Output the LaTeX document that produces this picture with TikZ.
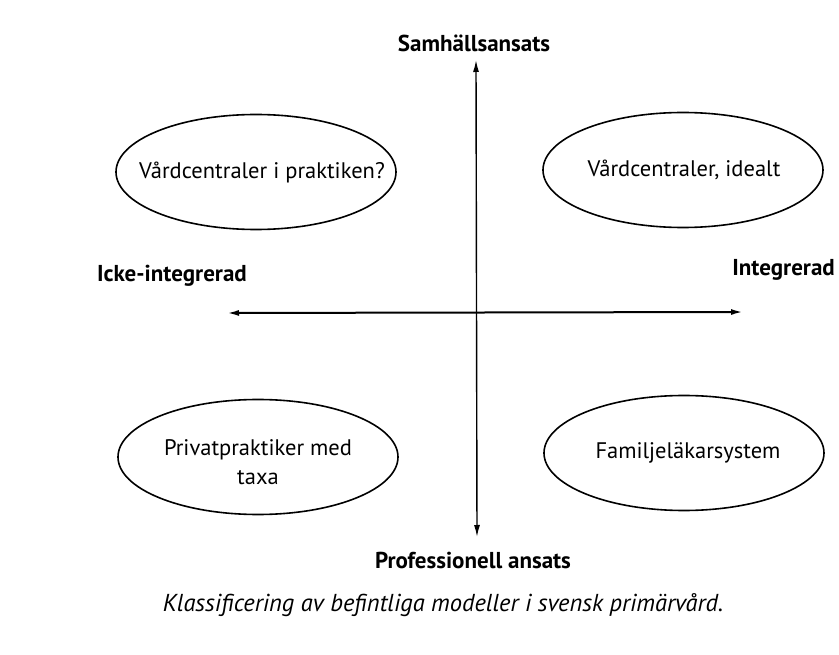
\documentclass[tikz,border=0pt]{standalone}
\usepackage{fontspec}
\setmainfont{PT Sans}
\usetikzlibrary{shapes.geometric,arrows.meta}
\tikzset{
  oval/.style={draw, line width=1.6pt, ellipse, minimum width=280pt, minimum height=115pt, inner sep=0pt},
  ovaltext/.style={inner sep=0pt, align=center, font=\fontsize{22.5}{29}\selectfont},
  axislabel/.style={font=\bfseries\fontsize{23}{27}\selectfont, inner sep=0pt},
  axis/.style={line width=1.4pt, {Latex[length=12pt,width=6pt]}-{Latex[length=12pt,width=6pt]}},
}
\begin{document}
\begin{tikzpicture}[x=1pt,y=-1pt]
\useasboundingbox (0,0) rectangle (839,655);
\coordinate (vt) at (476,60);
\coordinate (vb) at (477,537);
\coordinate (hl) at (227,313);
\coordinate (hr) at (743,312);
\draw[axis] (vb) -- (vt);
\draw[axis, line width=2pt] (hl) -- (hr);
\node[axislabel] (sam) at (474,43) {Samhällsansats};
\node[axislabel] (prof) at (473,560) {Professionell ansats};
\node[axislabel] (icke) at (172,276) {Icke-integrerad};
\node[axislabel, anchor=east] (integ) at (835,270) {Integrerad};
\node[oval] (tl) at (256,172) {};
\node[ovaltext] (tlt) at (262,172) {Vårdcentraler i praktiken?};
\node[oval] (tr) at (683,170) {};
\node[ovaltext] (trt) at (684,170) {Vårdcentraler, idealt};
\node[oval] (bl) at (258,457) {};
\node[ovaltext] (blt) at (258,462) {Privatpraktiker med\\taxa};
\node[oval] (br) at (684,453) {};
\node[ovaltext] (brt) at (688,453) {Familjeläkarsystem};
\node[font=\itshape\fontsize{24.5}{30}\selectfont, inner sep=0pt] (cap) at (443,605) {Klassificering av befintliga modeller i svensk primärvård.};
\end{tikzpicture}
\end{document}
